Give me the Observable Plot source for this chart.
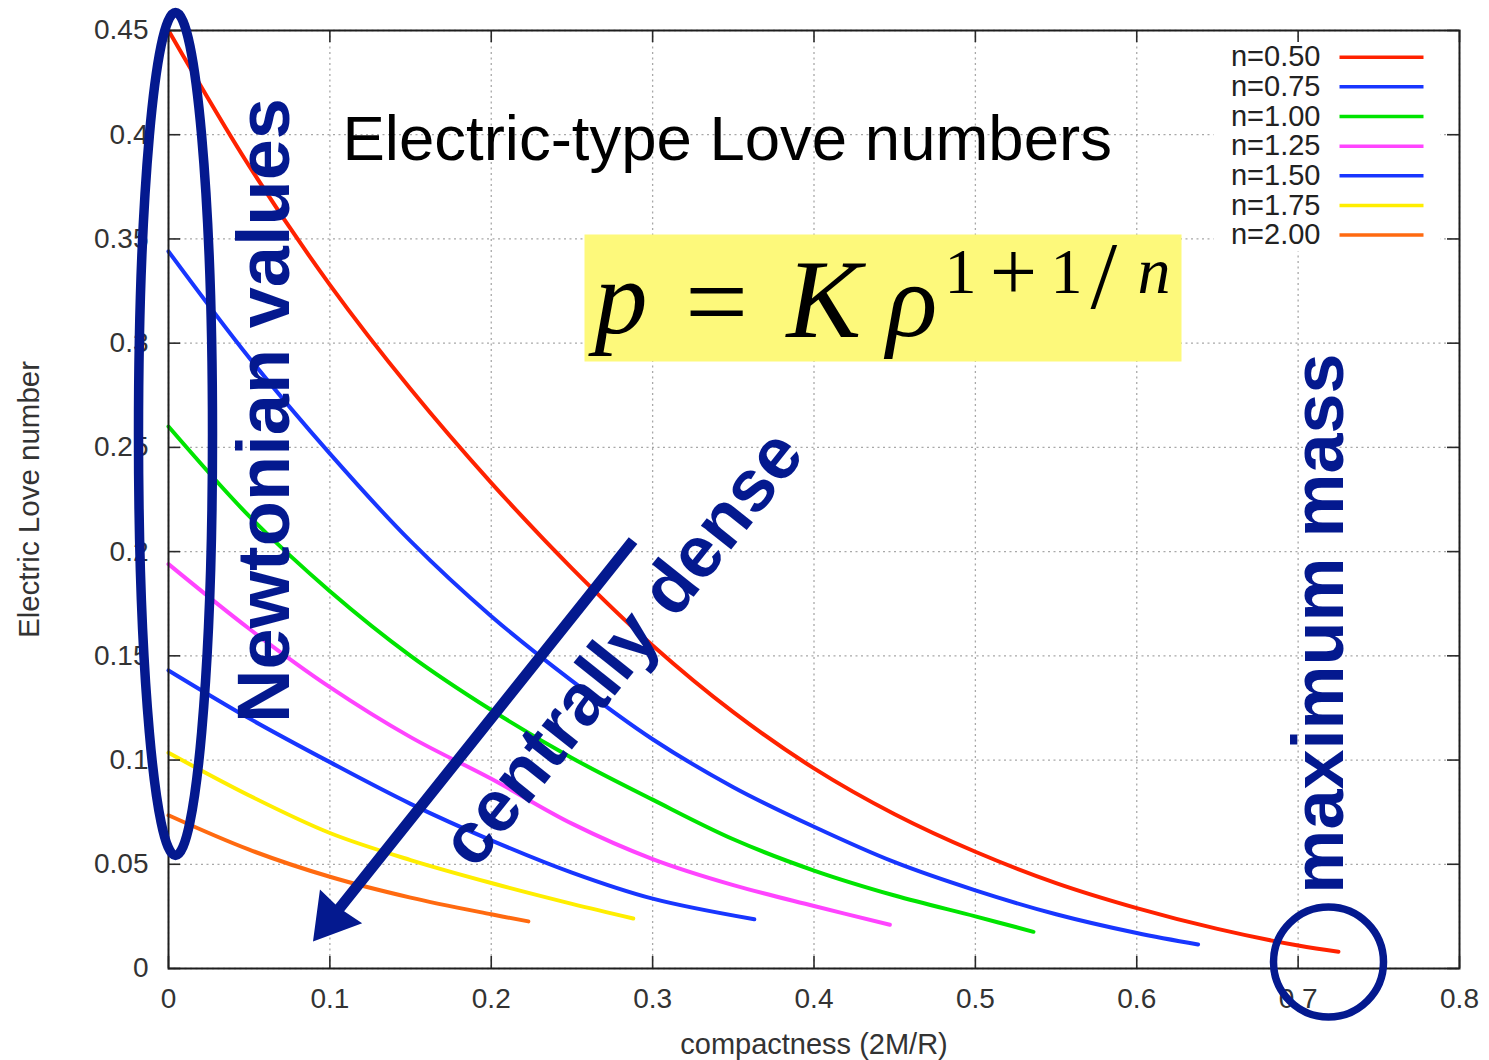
<!DOCTYPE html>
<html>
<head>
<meta charset="utf-8">
<script src="https://cdn.jsdelivr.net/npm/d3@7"></script>
<script src="https://cdn.jsdelivr.net/npm/@observablehq/plot@0.6"></script>
<style>
  html, body { margin: 0; padding: 0; background: #fff; }
  #chart svg { display: block; }
</style>
</head>
<body>
<div id="chart"></div>
<script>
// ---------- data ----------
const seriesLabels = ["n=0.50", "n=0.75", "n=1.00", "n=1.25", "n=1.50", "n=1.75", "n=2.00"];
const seriesColors = ["#ff2200", "#1836ff", "#00e400", "#ff44ff", "#1836ff", "#ffee00", "#ff6a10"];

const compactness050 = [0, 0.05, 0.1, 0.15, 0.2, 0.25, 0.3, 0.35, 0.4, 0.45, 0.5, 0.55, 0.6, 0.65, 0.7, 0.725];
const love050        = [0.450, 0.385, 0.328, 0.278, 0.233, 0.192, 0.155, 0.123, 0.096, 0.074, 0.056, 0.041, 0.029, 0.019, 0.011, 0.008];
const compactness075 = [0, 0.05, 0.1, 0.15, 0.2, 0.25, 0.3, 0.35, 0.4, 0.45, 0.5, 0.55, 0.6, 0.638];
const love075        = [0.344, 0.293, 0.247, 0.205, 0.169, 0.138, 0.110, 0.087, 0.068, 0.051, 0.0375, 0.026, 0.017, 0.0115];
const compactness100 = [0, 0.05, 0.1, 0.15, 0.2, 0.25, 0.3, 0.35, 0.4, 0.45, 0.5, 0.536];
const love100        = [0.260, 0.217, 0.181, 0.150, 0.124, 0.101, 0.081, 0.062, 0.047, 0.035, 0.025, 0.0176];
const compactness125 = [0, 0.05, 0.1, 0.15, 0.2, 0.25, 0.3, 0.35, 0.4, 0.447];
const love125        = [0.194, 0.163, 0.135, 0.111, 0.091, 0.0695, 0.0525, 0.040, 0.030, 0.021];
const compactness150 = [0, 0.05, 0.1, 0.15, 0.2, 0.25, 0.3, 0.363];
const love150        = [0.143, 0.120, 0.099, 0.079, 0.0615, 0.046, 0.0335, 0.0236];
const compactness175 = [0, 0.05, 0.1, 0.15, 0.2, 0.25, 0.288];
const love175        = [0.1035, 0.083, 0.065, 0.052, 0.041, 0.031, 0.024];
const compactness200 = [0, 0.05, 0.1, 0.15, 0.2, 0.223];
const love200        = [0.0735, 0.057, 0.044, 0.034, 0.026, 0.0226];

const xTicks = [0, 0.1, 0.2, 0.3, 0.4, 0.5, 0.6, 0.7, 0.8];
const yTicks = [0, 0.05, 0.1, 0.15, 0.2, 0.25, 0.3, 0.35, 0.4, 0.45];

// ---------- table built from the arrays ----------
const seriesX = [compactness050, compactness075, compactness100, compactness125, compactness150, compactness175, compactness200];
const seriesK = [love050, love075, love100, love125, love150, love175, love200];
const rows = seriesLabels.flatMap((n, i) => seriesX[i].map((c, j) => ({n, c, k: seriesK[i][j]})));

// ---------- layout ----------
const W = 1489, H = 1060, ML = 168, MR = 30, MT = 30, MB = 92;
const FW = W - ML - MR, FH = H - MT - MB;
const at = (px, py) => ({frameAnchor: "top-left", dx: px - ML, dy: py - MT});
const shape = draw => ({draw});
const navy = "#04198f";
const sans = "'Liberation Sans', Arial, Helvetica, sans-serif";
const serif = "'Liberation Serif', 'Times New Roman', serif";
const fmt = d3.format("~g");

const rectSym = (w, h) => shape(ctx => { ctx.rect(-w / 2, -h / 2, w, h); });
const hlineSym = len => shape(ctx => { ctx.moveTo(-len / 2, 0); ctx.lineTo(len / 2, 0); });
const ellipseSym = (a, b) => shape(ctx => {
  const k = 0.5523;
  ctx.moveTo(a, 0);
  ctx.bezierCurveTo(a, k * b, k * a, b, 0, b);
  ctx.bezierCurveTo(-k * a, b, -a, k * b, -a, 0);
  ctx.bezierCurveTo(-a, -k * b, -k * a, -b, 0, -b);
  ctx.bezierCurveTo(k * a, -b, a, -k * b, a, 0);
  ctx.closePath();
});
// arrow pointing "up" with its tip at the origin
const arrowSym = (len, headL, headW, shaftW) => shape(ctx => {
  ctx.moveTo(0, 0);
  ctx.lineTo(headW / 2, headL);
  ctx.lineTo(shaftW / 2, headL - 2);
  ctx.lineTo(shaftW / 2, len);
  ctx.lineTo(-shaftW / 2, len);
  ctx.lineTo(-shaftW / 2, headL - 2);
  ctx.lineTo(-headW / 2, headL);
  ctx.closePath();
});

const gridStyle = {stroke: "#a8a8a8", strokeOpacity: 1, strokeWidth: 1.3, strokeDasharray: "2,3.5"};
const tickStyle = {stroke: "#2a2a2a", strokeWidth: 1.6};

const legendMarks = seriesLabels.flatMap((lab, i) => [
  Plot.text([lab], {...at(1320, 56.7 + i * 29.65), text: d => d, textAnchor: "end", lineAnchor: "middle",
    fontSize: 29, fill: "#222", fontFamily: sans}),
  Plot.dot([lab], {...at(1381, 56.7 + i * 29.65), symbol: hlineSym(84), r: 1, fill: "none",
    stroke: seriesColors[i], strokeWidth: 3.5})
]);

const serifText = (s, px, py, size, opts = {}) =>
  Plot.text([s], {...at(px, py), text: d => d, fontFamily: serif, fontSize: size, fill: "#000",
    textAnchor: "start", lineAnchor: "bottom", ...opts});

const plot = Plot.plot({
  width: W, height: H,
  marginLeft: ML, marginRight: MR, marginTop: MT, marginBottom: MB,
  style: {fontFamily: sans, background: "#fff", overflow: "visible"},
  x: {domain: [0, 0.8], label: null},
  y: {domain: [0, 0.45], label: null},
  color: {domain: seriesLabels, range: seriesColors},
  marks: [
    Plot.gridX(xTicks, gridStyle),
    Plot.gridY(yTicks, gridStyle),
    // legend background (hides grid behind the key)
    Plot.dot([0], {...at(1326.5, 145), symbol: rectSym(227, 212), r: 1, fill: "#fff", stroke: "none"}),
    // yellow formula box
    Plot.dot([0], {...at(882.5, 297.5), symbol: rectSym(597, 127), r: 1, fill: "#fdf97b", stroke: "none"}),
    // curves
    Plot.line(rows, {x: "c", y: "k", z: "n", stroke: "n", strokeWidth: 4, curve: "catmull-rom"}),
    // inward ticks on all four sides
    Plot.ruleX(xTicks, {x: d => d, insetTop: FH - 12, ...tickStyle}),
    Plot.ruleX(xTicks, {x: d => d, insetBottom: FH - 12, ...tickStyle}),
    Plot.ruleY(yTicks, {y: d => d, insetRight: FW - 12, ...tickStyle}),
    Plot.ruleY(yTicks, {y: d => d, insetLeft: FW - 12, ...tickStyle}),
    Plot.frame({stroke: "#1e1e1e", strokeWidth: 2}),
    Plot.axisX(xTicks, {tickSize: 0, tickPadding: 20, tickFormat: fmt, fontSize: 28, color: "#333", label: null}),
    Plot.axisY(yTicks, {tickSize: 0, tickPadding: 20, tickFormat: fmt, fontSize: 28, color: "#333", label: null}),
    Plot.text(["compactness (2M/R)"], {...at(813.5, 1053), text: d => d, textAnchor: "middle", lineAnchor: "bottom",
      fontSize: 29, fill: "#333"}),
    Plot.text(["Electric Love number"], {...at(38.5, 499), text: d => d, rotate: -90, textAnchor: "middle",
      lineAnchor: "bottom", fontSize: 29.5, fill: "#333"}),
    ...legendMarks,
    // title inside the plot
    Plot.text(["Electric-type Love numbers"], {...at(342, 159.5), text: d => d, textAnchor: "start",
      lineAnchor: "bottom", fontSize: 63.5, fill: "#000"}),
    // formula p = K rho^(1+1/n)
    serifText("p", 594, 332, 106, {fontStyle: "italic"}),
    serifText("=", 716, 338, 112, {textAnchor: "middle"}),
    serifText("K", 786, 336, 112, {fontStyle: "italic"}),
    serifText("ρ", 886, 335, 106, {fontStyle: "italic"}),
    serifText("1", 944, 292, 64),
    serifText("+", 1013, 299, 84, {textAnchor: "middle"}),
    serifText("1", 1050, 292, 64),
    serifText("/", 1090, 307, 96),
    serifText("n", 1137, 292, 66, {fontStyle: "italic"}),
    // navy annotations
    Plot.dot([0], {...at(175, 433.5), symbol: ellipseSym(37, 421.5), r: 1, fill: "none", stroke: navy, strokeWidth: 9.5}),
    Plot.dot([0], {...at(1328, 961.5), r: 55, fill: "none", stroke: navy, strokeWidth: 7.5}),
    Plot.dot([0], {...at(312.5, 941), symbol: arrowSym(513, 45, 54, 11), r: 1, rotate: 218.6, fill: navy, stroke: "none"}),
    Plot.text(["Newtonian values"], {...at(288, 410), text: d => d, rotate: -90, textAnchor: "middle",
      lineAnchor: "bottom", fontSize: 74, fontWeight: "bold", fill: navy}),
    Plot.text(["maximum mass"], {...at(1342, 623), text: d => d, rotate: -90, textAnchor: "middle",
      lineAnchor: "bottom", fontSize: 72, fontWeight: "bold", fill: navy}),
    Plot.text(["centrally dense"], {...at(622, 648), text: d => d, rotate: -51.5, textAnchor: "middle",
      lineAnchor: "middle", fontSize: 73, fontWeight: "bold", fill: navy})
  ]
});

document.getElementById("chart").append(plot);
</script>
</body>
</html>
